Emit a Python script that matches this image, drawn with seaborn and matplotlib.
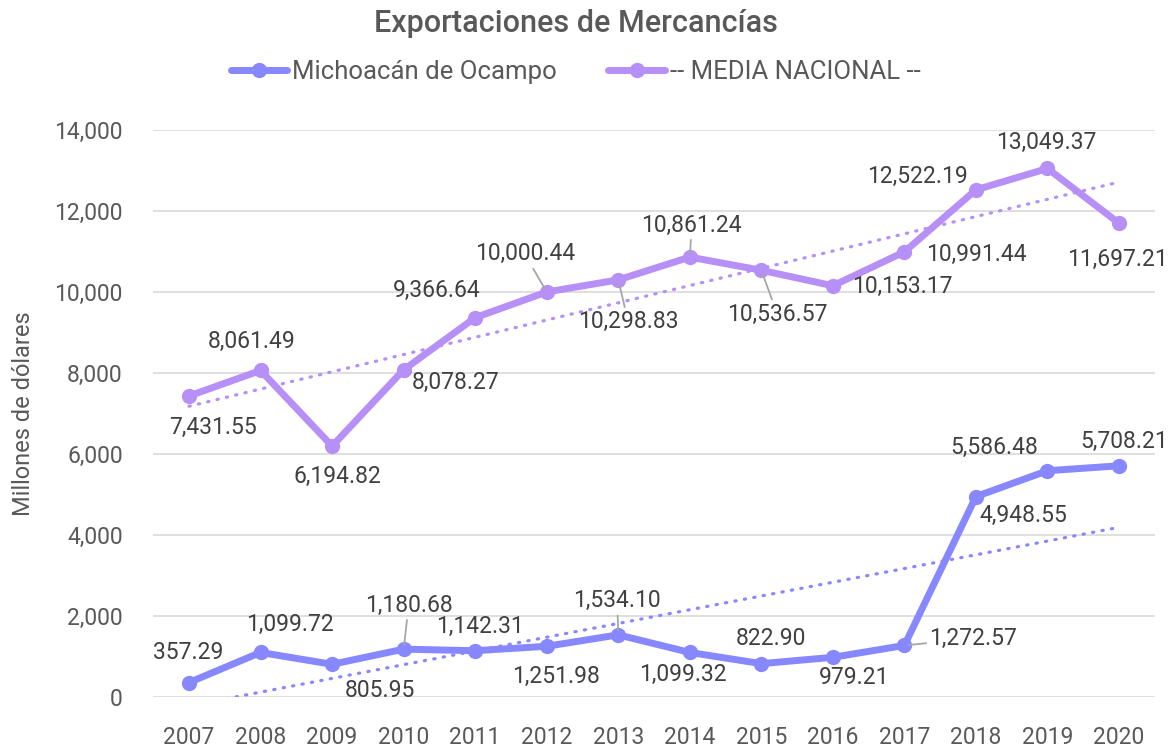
import numpy as np
import pandas as pd
import matplotlib
matplotlib.use("Agg")
import matplotlib.pyplot as plt
import seaborn as sns

# -----------------------------
# Data
years = [2007, 2008, 2009, 2010, 2011, 2012, 2013,
         2014, 2015, 2016, 2017, 2018, 2019, 2020]
michoacan = [357.29, 1099.72, 805.95, 1180.68, 1142.31, 1251.98, 1534.10,
             1099.32, 822.90, 979.21, 1272.57, 4948.55, 5586.48, 5708.21]
media_nacional = [7431.55, 8061.49, 6194.82, 8078.27, 9366.64, 10000.44, 10298.83,
                  10861.24, 10536.57, 10153.17, 10991.44, 12522.19, 13049.37, 11697.21]
series_names = ["Michoacán de Ocampo", "-- MEDIA NACIONAL --"]
y_ticks = [0, 2000, 4000, 6000, 8000, 10000, 12000, 14000]

# label offsets in pixels (dx, dy) and whether a leader line is drawn
mich_offsets = [(-1, 30), (29, 28), (48, -26), (5, 44), (5, 24), (9, -30), (-1, 34),
                (-7, -22), (10, 25), (21, -20), (69, 7), (47, -19), (-53, 23), (5, 24)]
mich_leader = [2010, 2013, 2017]
media_offsets = [(24, -31), (-9, 29), (5, -30), (52, -13), (-38, 27), (-22, 38), (10, -42),
                 (2, 32), (16, -44), (69, -1), (72, -3), (-59, 13), (-1, 26), (-2, -36)]
media_leader = [2012, 2013, 2014, 2015]

# -----------------------------
# Style
sns.set_style("white")
plt.rcParams["font.family"] = ["Roboto", "DejaVu Sans"]
colors = {"Michoacán de Ocampo": "#8787FF", "-- MEDIA NACIONAL --": "#B68FF7"}
txt_dark = "#404040"
txt_gray = "#595959"

df = pd.DataFrame({
    "Año": years * 2,
    "Valor": michoacan + media_nacional,
    "Serie": [series_names[0]] * len(years) + [series_names[1]] * len(years),
})

fig = plt.figure(figsize=(11.7, 7.5), dpi=100)
ax = fig.add_axes([0.131, 0.0707, 0.856, 0.756])

sns.lineplot(data=df, x="Año", y="Valor", hue="Serie", palette=colors,
             marker="o", markersize=11, markeredgewidth=0, linewidth=5,
             ax=ax, zorder=3)

# linear trend lines
for name, vals in zip(series_names, [michoacan, media_nacional]):
    coef = np.polyfit(years, vals, 1)
    trend = np.polyval(coef, years)
    ax.plot(years, trend, color=colors[name], linewidth=2.3,
            linestyle=(0, (0.4, 2.6)), dash_capstyle="round", zorder=2)

# data labels
def add_labels(vals, offsets, leaders):
    for yr, v, (dx, dy) in zip(years, vals, offsets):
        arrow = None
        if yr in leaders:
            arrow = dict(arrowstyle="-", color="#A6A6A6", lw=1.3,
                         shrinkA=0, shrinkB=3)
        ax.annotate(f"{v:,.2f}", xy=(yr, v), xytext=(dx, dy),
                    textcoords="offset pixels", ha="center", va="center",
                    fontsize=16.5, color=txt_dark, arrowprops=arrow, zorder=4)

add_labels(michoacan, mich_offsets, mich_leader)
add_labels(media_nacional, media_offsets, media_leader)

# axes
ax.set_xlim(2006.5, 2020.5)
ax.set_ylim(0, 14000)
ax.set_xticks(years)
ax.set_yticks(y_ticks)
ax.set_yticklabels([f"{t:,}" for t in y_ticks])
ax.tick_params(axis="x", pad=21, labelsize=16.5, colors=txt_gray, length=0)
ax.tick_params(axis="y", pad=22, labelsize=16.5, colors=txt_gray, length=0)
ax.grid(axis="y", color="#D9D9D9", linewidth=1.2)
ax.set_axisbelow(True)
sns.despine(ax=ax, left=True, bottom=True)
ax.set_xlabel("")
ax.set_ylabel("Millones de dólares", fontsize=17, color=txt_gray, labelpad=14)

# legend
handles, labels = ax.get_legend_handles_labels()
ax.legend_.remove()
fig.legend(handles, labels, loc="center", bbox_to_anchor=(0.492, 0.904), ncol=2,
           frameon=False, fontsize=18.5, labelcolor=txt_gray, handlelength=2.2,
           handletextpad=0.2, columnspacing=2.0)

fig.text(0.492, 0.968, "Exportaciones de Mercancías", ha="center", va="center",
         fontsize=22, fontweight="medium", color=txt_gray)

plt.savefig("out.png", dpi=100)
